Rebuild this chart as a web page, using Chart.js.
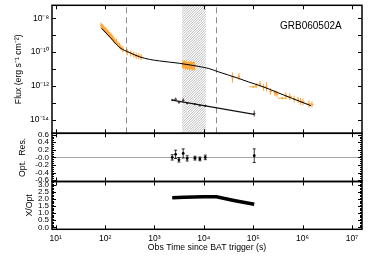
<!DOCTYPE html>
<html><head><meta charset="utf-8">
<script src="https://cdn.jsdelivr.net/npm/chart.js@4.4.1/dist/chart.umd.min.js"></script>
<style>
html,body{margin:0;padding:0;background:#fff;}
#wrap{position:relative;width:374px;height:267px;overflow:hidden;background:#fff;}
canvas{position:absolute;left:0;}
</style></head><body>
<div id="wrap">
<canvas id="c1" width="374" height="138" style="top:0px;width:374px;height:138px"></canvas>
<canvas id="c2" width="374" height="58" style="top:127px;width:374px;height:58px"></canvas>
<canvas id="c3" width="374" height="92" style="top:175px;width:374px;height:92px"></canvas>
</div>
<script>
// ---------------- data ----------------
const grbName = 'GRB060502A';
const xMin = 8.4, xMax = 1.6e7;
const fluxMin = 1.57e-15, fluxMax = 5.9e-8;
const resMin = -0.635, resMax = 0.635;
const ratioMin = -0.14, ratioMax = 3.25;

const xTickExps = [1, 2, 3, 4, 5, 6, 7];
const fluxLabelExps = [-14, -12, -10, -8];
const fluxDecadeExps = [-14, -13, -12, -11, -10, -9, -8];
const resTicks = [-0.6, -0.4, -0.2, 0, 0.2, 0.4, 0.6];
const resTickLabels = ['-0.6', '-0.4', '-0.2', '-0.0', '0.2', '0.4', '0.6'];
const ratioTicks = [0, 0.5, 1, 1.5, 2, 2.5, 3];
const ratioTickLabels = ['0.0', '0.5', '1.0', '1.5', '2.0', '2.5', '3.0'];

const breakTimes = [263, 17400];
const hatchRange = [3630, 11000];

// X-ray light curve (s, erg s^-1 cm^-2); errors as half-widths in dex
const xrayTime = [83, 87, 91, 95, 100, 105, 110, 115, 120, 126, 132, 138, 145, 151, 158, 170, 182, 195, 209,
  229, 282, 331, 380, 427, 479, 537,
  3715, 3890, 4074, 4266, 4467, 4677, 4898, 5129, 5370, 5623, 5888, 6166, 6457,
  38000, 51300,
  1.0e5, 1.15e5, 1.38e5, 1.62e5, 1.86e5, 2.24e5, 2.75e5, 3.02e5, 3.89e5, 4.57e5, 5.50e5, 6.76e5, 8.13e5, 9.12e5, 1.02e6, 1.35e6, 1.55e6];
const xrayFlux = [3.8e-9, 3.16e-9, 2.82e-9, 2.34e-9, 2.0e-9, 1.91e-9, 1.48e-9, 1.38e-9, 1.12e-9, 1.0e-9, 8.5e-10, 7.6e-10, 6.3e-10, 5.2e-10, 4.5e-10, 4.0e-10, 3.0e-10, 2.4e-10, 1.9e-10,
  1.51e-10, 1.0e-10, 8.3e-11, 7.2e-11, 6.0e-11, 5.75e-11, 5.0e-11,
  2.0e-11, 1.66e-11, 1.91e-11, 1.58e-11, 1.82e-11, 1.51e-11, 1.74e-11, 1.45e-11, 1.66e-11, 1.58e-11, 1.38e-11, 1.62e-11, 1.48e-11,
  3.16e-12, 3.55e-12,
  8.91e-13, 1.07e-12, 1.29e-12, 8.13e-13, 8.91e-13, 4.68e-13, 3.8e-13, 3.31e-13, 1.86e-13, 2.63e-13, 2.34e-13, 1.66e-13, 1.48e-13, 1.2e-13, 1.12e-13, 8.51e-14, 7.94e-14];
const xrayTimeErr = [0.01, 0.01, 0.01, 0.01, 0.01, 0.01, 0.01, 0.01, 0.01, 0.01, 0.01, 0.01, 0.01, 0.01, 0.01, 0.012, 0.012, 0.012, 0.012,
  0.02, 0.03, 0.03, 0.03, 0.03, 0.03, 0.03,
  0.008, 0.008, 0.008, 0.008, 0.008, 0.008, 0.008, 0.008, 0.008, 0.008, 0.008, 0.008, 0.008,
  0.02, 0.02,
  0.08, 0.02, 0.02, 0.02, 0.02, 0.03, 0.03, 0.03, 0.09, 0.03, 0.04, 0.03, 0.02, 0.03, 0.04, 0.06, 0.03];
const xrayFluxErr = [0.17, 0.17, 0.17, 0.17, 0.17, 0.17, 0.17, 0.17, 0.17, 0.17, 0.17, 0.17, 0.17, 0.17, 0.17, 0.17, 0.17, 0.17, 0.17,
  0.18, 0.18, 0.18, 0.18, 0.18, 0.18, 0.18,
  0.24, 0.24, 0.24, 0.24, 0.24, 0.24, 0.24, 0.24, 0.24, 0.24, 0.24, 0.24, 0.24,
  0.3, 0.2,
  0.06, 0.15, 0.18, 0.2, 0.26, 0.2, 0.18, 0.18, 0.06, 0.2, 0.2, 0.2, 0.18, 0.2, 0.2, 0.2, 0.18];

// X-ray model curve
const xrayFitTime = [85, 126, 200, 316, 501, 794, 1259, 1995, 3162, 5012, 7943, 12589, 19953, 31623, 50119, 79433, 158489, 316228, 630957, 1479108];
const xrayFitFlux = [2.57e-9, 7.59e-10, 1.82e-10, 9.33e-11, 5.25e-11, 3.72e-11, 3.02e-11, 2.57e-11, 2.19e-11, 1.78e-11, 1.41e-11, 1.07e-11, 6.76e-12, 4.37e-12, 2.82e-12, 1.74e-12, 8.91e-13, 3.98e-13, 1.78e-13, 6.76e-14];

// Optical (converted) light curve
const optTime = [2290, 2680, 3130, 3820, 4600, 6610, 8320, 10700, 105000];
const optFlux = [1.46e-13, 1.62e-13, 1.06e-13, 1.41e-13, 9.55e-14, 8.32e-14, 6.92e-14, 6.61e-14, 2.29e-14];
const optFluxErr = [0.07, 0.1, 0.06, 0.12, 0.07, 0.05, 0.05, 0.06, 0.18];
const optTimeErr = [0.025, 0.025, 0.025, 0.025, 0.025, 0.025, 0.025, 0.025, 0.025];
const optFitTime = [2290, 105000];
const optFitFlux = [1.46e-13, 2.09e-14];

// Optical residuals
const resValue = [0.0, 0.08, -0.063, 0.105, -0.026, -0.02, -0.04, 0.0, 0.045];
const resErr = [0.07, 0.11, 0.06, 0.12, 0.07, 0.05, 0.05, 0.06, 0.18];

// X/Opt ratio
const ratioTime = [2290, 4000, 10000, 18000, 43000, 105000];
const ratioValue = [2.10, 2.14, 2.17, 2.17, 1.89, 1.63];

// ---------------- helpers ----------------
const FONT = '"Liberation Sans", Arial, Helvetica, sans-serif';
Chart.defaults.font.family = FONT;
Chart.defaults.color = '#000';
Chart.defaults.animation = false;
const ORANGE = '#ffa83c';
const OPTC = '#5a4650';

const SUP = {'0':'⁰','1':'¹','2':'²','3':'³','4':'⁴','5':'⁵','6':'⁶','7':'⁷','8':'⁸','9':'⁹','-':'⁻'};
const sup = s => String(s).split('').map(c => SUP[c] || c).join('');
const pts = (xs, ys) => xs.map((x, i) => ({x: x, y: ys[i]}));
const range = (a, b, st) => { const r = []; for (let v = a; v <= b + 1e-9; v += st) r.push(Math.round(v * 1000) / 1000); return r; };

function logErr(vals, dex) {
  return {lo: vals.map((v, i) => v / Math.pow(10, dex[i])), hi: vals.map((v, i) => v * Math.pow(10, dex[i]))};
}

const errorBarPlugin = {
  id: 'errbars',
  beforeDatasetsDraw(chart) {
    const {ctx, chartArea: a, scales: {x, y}} = chart;
    ctx.save();
    ctx.beginPath(); ctx.rect(a.left, a.top, a.right - a.left, a.bottom - a.top); ctx.clip();
    chart.data.datasets.forEach(ds => {
      const e = ds.errBars; if (!e) return;
      ctx.strokeStyle = e.color; ctx.lineWidth = e.width;
      ctx.beginPath();
      ds.data.forEach((p, j) => {
        const px = x.getPixelForValue(p.x), py = y.getPixelForValue(p.y);
        if (e.ylo) {
          const y0 = y.getPixelForValue(e.ylo[j]), y1 = y.getPixelForValue(e.yhi[j]);
          ctx.moveTo(px, y0); ctx.lineTo(px, y1);
          if (e.cap) { ctx.moveTo(px - e.cap, y0); ctx.lineTo(px + e.cap, y0); ctx.moveTo(px - e.cap, y1); ctx.lineTo(px + e.cap, y1); }
        }
        if (e.xlo) {
          const x0 = x.getPixelForValue(e.xlo[j]), x1 = x.getPixelForValue(e.xhi[j]);
          ctx.moveTo(x0, py); ctx.lineTo(x1, py);
        }
      });
      ctx.stroke();
    });
    ctx.restore();
  }
};

const framePlugin = {
  id: 'frame',
  afterDatasetsDraw(chart, args, opts) {
    const {ctx, chartArea: a, scales: {x, y}} = chart;
    ctx.save();
    ctx.strokeStyle = '#000';
    ctx.lineWidth = 1;
    ctx.beginPath();
    (opts.xTicks || []).forEach(v => {
      const px = Math.round(x.getPixelForValue(v)) + 0.5;
      ctx.moveTo(px, a.top); ctx.lineTo(px, a.top + 4);
      ctx.moveTo(px, a.bottom); ctx.lineTo(px, a.bottom - 4);
    });
    const yt = (vals, len) => (vals || []).forEach(v => {
      const py = Math.round(y.getPixelForValue(v)) + 0.5;
      ctx.moveTo(a.left, py); ctx.lineTo(a.left + len, py);
      ctx.moveTo(a.right, py); ctx.lineTo(a.right - len, py);
    });
    yt(opts.yMajor, 4);
    yt(opts.yMinor, 2);
    ctx.stroke();
    ctx.lineWidth = 1.5;
    ctx.strokeRect(a.left, a.top, a.right - a.left, a.bottom - a.top);
    ctx.restore();
  }
};

const decorTop = {
  id: 'decorTop',
  beforeDatasetsDraw(chart) {
    const {ctx, chartArea: a, scales: {x}} = chart;
    const x0 = x.getPixelForValue(hatchRange[0]), x1 = x.getPixelForValue(hatchRange[1]);
    ctx.save();
    ctx.beginPath(); ctx.rect(x0, a.top, x1 - x0, a.bottom - a.top); ctx.clip();
    ctx.strokeStyle = '#8e8e8e'; ctx.lineWidth = 0.6;
    ctx.beginPath();
    const h = a.bottom - a.top;
    for (let s = x0 - h; s < x1 + 2; s += 2.5) { ctx.moveTo(s, a.bottom); ctx.lineTo(s + h, a.top); }
    ctx.stroke();
    ctx.restore();
    ctx.save();
    ctx.strokeStyle = '#8c8c8c'; ctx.lineWidth = 1; ctx.setLineDash([6, 4]);
    breakTimes.forEach(t => {
      const px = Math.round(x.getPixelForValue(t)) + 0.5;
      ctx.beginPath(); ctx.moveTo(px, a.top + 2); ctx.lineTo(px, a.bottom); ctx.stroke();
    });
    ctx.restore();
    ctx.save();
    ctx.fillStyle = '#000'; ctx.font = '10px ' + FONT; ctx.textBaseline = 'alphabetic';
    ctx.fillText(grbName, 280, 29);
    ctx.restore();
  }
};

const zeroLine = {
  id: 'zeroLine',
  beforeDatasetsDraw(chart) {
    const {ctx, chartArea: a, scales: {y}} = chart;
    const py = Math.round(y.getPixelForValue(0)) + 0.5;
    ctx.save(); ctx.strokeStyle = '#a8a8a8'; ctx.lineWidth = 1;
    ctx.beginPath(); ctx.moveTo(a.left, py); ctx.lineTo(a.right, py); ctx.stroke(); ctx.restore();
  }
};

const noGrid = {display: false, drawTicks: false, tickLength: 0};

function xScale(show) {
  return {
    type: 'logarithmic', min: xMin, max: xMax, display: show,
    grid: noGrid, border: {display: false},
    afterBuildTicks: s => { s.ticks = xTickExps.map(e => ({value: Math.pow(10, e)})); },
    ticks: {autoSkip: false, maxRotation: 0, minRotation: 0, padding: 4, font: {size: 8.5},
      callback: v => '10' + sup(Math.round(Math.log10(v)))},
    title: {display: show, text: 'Obs Time since BAT trigger (s)', font: {size: 8.7}, padding: {top: 0, bottom: 13.8}},
    afterFit: s => { if (show) s.height = 37.7; s.paddingLeft = 0; s.paddingRight = 0; }
  };
}
function yFit(s) { s.width = 52; s.paddingTop = 0; s.paddingBottom = 0; }

const baseOpts = (pad) => ({
  responsive: false, animation: false, events: [],
  layout: {autoPadding: false, padding: pad},
  plugins: {legend: {display: false}, tooltip: {enabled: false}}
});

// ---------------- chart 1: flux ----------------
const xe = logErr(xrayTime, xrayTimeErr), fe = logErr(xrayFlux, xrayFluxErr);
const oxe = logErr(optTime, optTimeErr), ofe = logErr(optFlux, optFluxErr);
const o1 = baseOpts({top: 5.3, right: 12, bottom: 4.7, left: 0});
o1.plugins.frame = {xTicks: xTickExps.map(e => Math.pow(10, e)), yMajor: fluxDecadeExps.map(e => Math.pow(10, e))};
o1.scales = {
  x: xScale(false),
  y: {type: 'logarithmic', min: fluxMin, max: fluxMax,
    grid: noGrid, border: {display: false},
    afterBuildTicks: s => { s.ticks = fluxLabelExps.map(e => ({value: Math.pow(10, e)})); },
    ticks: {autoSkip: false, padding: 3, font: {size: 8.5}, callback: v => '10' + sup(Math.round(Math.log10(v)))},
    title: {display: true, text: 'Flux (erg s⁻¹ cm⁻²)', font: {size: 8.7}, padding: {top: 13.8, bottom: 0}},
    afterFit: yFit}
};
new Chart(document.getElementById('c1'), {
  type: 'scatter',
  data: {datasets: [
    {label: 'X-ray model', data: pts(xrayFitTime, xrayFitFlux), showLine: true, borderColor: '#000', borderWidth: 1, pointRadius: 0, cubicInterpolationMode: 'monotone'},
    {label: 'Optical model', data: pts(optFitTime, optFitFlux), showLine: true, borderColor: '#111', borderWidth: 1.2, pointRadius: 0},
    {label: 'Optical', data: pts(optTime, optFlux), showLine: false, pointRadius: 1, backgroundColor: OPTC, borderColor: OPTC, borderWidth: 0,
      errBars: {xlo: oxe.lo, xhi: oxe.hi, ylo: ofe.lo, yhi: ofe.hi, color: OPTC, width: 1}},
    {label: 'X-ray', data: pts(xrayTime, xrayFlux), showLine: false, pointRadius: 1, backgroundColor: ORANGE, borderColor: ORANGE, borderWidth: 0,
      errBars: {xlo: xe.lo, xhi: xe.hi, ylo: fe.lo, yhi: fe.hi, color: ORANGE, width: 1.1}}
  ]},
  options: o1,
  plugins: [decorTop, errorBarPlugin, framePlugin]
});

// ---------------- chart 2: residuals ----------------
const o2 = baseOpts({top: 6.3, right: 12, bottom: 3.5, left: 0});
o2.plugins.frame = {xTicks: xTickExps.map(e => Math.pow(10, e)), yMajor: resTicks, yMinor: range(-0.6, 0.6, 0.05)};
o2.scales = {
  x: xScale(false),
  y: {type: 'linear', min: resMin, max: resMax,
    grid: noGrid, border: {display: false},
    afterBuildTicks: s => { s.ticks = resTicks.map(v => ({value: v})); },
    ticks: {autoSkip: false, padding: 3, font: {size: 8}, callback: (v, i) => resTickLabels[i]},
    title: {display: true, text: 'Opt.  Res.', font: {size: 8.7}, padding: {top: 17.8, bottom: 0}},
    afterFit: yFit}
};
new Chart(document.getElementById('c2'), {
  type: 'scatter',
  data: {datasets: [
    {label: 'Residual', data: pts(optTime, resValue), showLine: false, pointRadius: 1.4, backgroundColor: '#000', borderColor: '#000', borderWidth: 0,
      errBars: {ylo: resValue.map((v, i) => v - resErr[i]), yhi: resValue.map((v, i) => v + resErr[i]), color: '#000', width: 0.8, cap: 1.5}}
  ]},
  options: o2,
  plugins: [zeroLine, errorBarPlugin, framePlugin]
});

// ---------------- chart 3: X/Opt ----------------
const o3 = baseOpts({top: 6.5, right: 12, bottom: 0, left: 0});
o3.plugins.frame = {xTicks: xTickExps.map(e => Math.pow(10, e)), yMajor: ratioTicks, yMinor: range(0, 3.2, 0.1)};
o3.scales = {
  x: xScale(true),
  y: {type: 'linear', min: ratioMin, max: ratioMax,
    grid: noGrid, border: {display: false},
    afterBuildTicks: s => { s.ticks = ratioTicks.map(v => ({value: v})); },
    ticks: {autoSkip: false, padding: 3, font: {size: 8}, callback: (v, i) => ratioTickLabels[i]},
    title: {display: true, text: 'X/Opt', font: {size: 8.7}, padding: {top: 24, bottom: 0}},
    afterFit: yFit}
};
new Chart(document.getElementById('c3'), {
  type: 'scatter',
  data: {datasets: [
    {label: 'X/Opt', data: pts(ratioTime, ratioValue), showLine: true, borderColor: '#000', borderWidth: 3.5, pointRadius: 0, borderCapStyle: 'butt'}
  ]},
  options: o3,
  plugins: [errorBarPlugin, framePlugin]
});
</script>
</body></html>
